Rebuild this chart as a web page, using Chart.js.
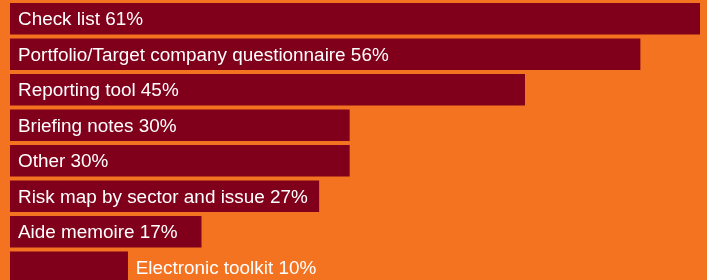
<!DOCTYPE html>
<html>
<head>
<meta charset="utf-8">
<script src="https://cdn.jsdelivr.net/npm/chart.js@4/dist/chart.umd.min.js"></script>
<style>
  html, body { margin: 0; padding: 0; background: #F47321; width: 707px; height: 280px; overflow: hidden; }
  #wrap { width: 707px; height: 285px; }
</style>
</head>
<body>
<div id="wrap"><canvas id="c" width="707" height="285"></canvas></div>
<script>
const categories = [
  "Check list",
  "Portfolio/Target company questionnaire",
  "Reporting tool",
  "Briefing notes",
  "Other",
  "Risk map by sector and issue",
  "Aide memoire",
  "Electronic toolkit"
];
const percentLabels = ["61%", "56%", "45%", "30%", "30%", "27%", "17%", "10%"];
const barValues = [61, 55.7, 45.5, 30, 30, 27.3, 16.9, 10.4];

const BAR = "#80001B";
const BG = "#F47321";

const labelPlugin = {
  id: "barLabels",
  afterDatasetsDraw(chart) {
    const ctx = chart.ctx;
    const meta = chart.getDatasetMeta(0);
    ctx.save();
    ctx.font = "18.9px 'Liberation Sans', Arial, sans-serif";
    ctx.fillStyle = "#FFFFFF";
    ctx.textBaseline = "alphabetic";
    meta.data.forEach((bar, i) => {
      const text = categories[i] + " " + percentLabels[i];
      const w = ctx.measureText(text).width;
      const left = Math.min(bar.base, bar.x);
      const right = Math.max(bar.base, bar.x);
      const y = bar.y + 6.5;
      if (w + 16 <= right - left) {
        ctx.fillText(text, left + 8, y);
      } else {
        ctx.fillText(text, right + 8, y);
      }
    });
    ctx.restore();
  }
};

new Chart(document.getElementById("c"), {
  type: "bar",
  data: {
    labels: categories,
    datasets: [{
      data: barValues,
      backgroundColor: BAR,
      borderWidth: 0,
      barThickness: 31
    }]
  },
  options: {
    indexAxis: "y",
    responsive: false,
    animation: false,
    devicePixelRatio: 1,
    layout: { padding: { left: 10, right: 7, top: 1, bottom: 0 } },
    plugins: { legend: { display: false }, tooltip: { enabled: false } },
    scales: {
      x: { display: false, min: 0, max: 61 },
      y: { display: false }
    }
  },
  plugins: [labelPlugin]
});
</script>
</body>
</html>
